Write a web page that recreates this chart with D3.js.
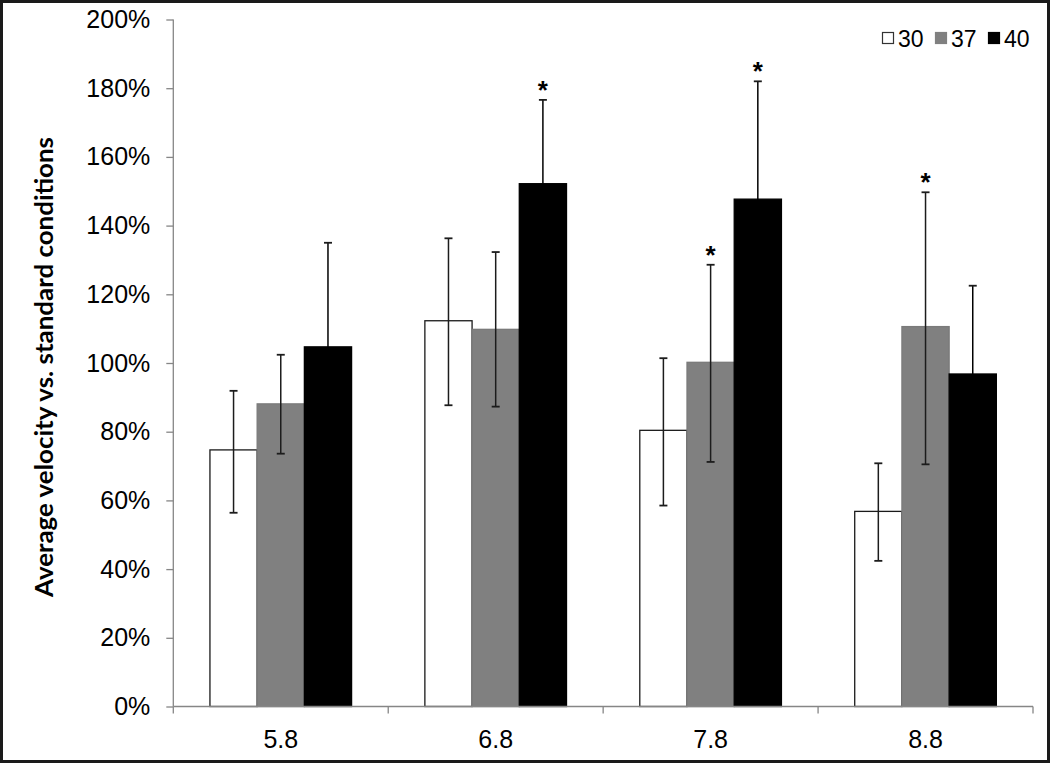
<!DOCTYPE html>
<html>
<head>
<meta charset="utf-8">
<script src="https://cdn.jsdelivr.net/npm/d3@7"></script>
<style>
  html, body { margin: 0; padding: 0; background: #fff; }
  svg { display: block; }
</style>
</head>
<body>
<svg id="chart" width="1050" height="763"></svg>
<script>
// ---- Data ----
const categories = ["5.8", "6.8", "7.8", "8.8"];
const seriesNames = ["30", "37", "40"];
const values30 = [74.7, 112.3, 80.4, 56.8];
const values37 = [88.1, 109.8, 100.2, 110.6];
const values40 = [104.7, 152.2, 147.7, 96.8];
const errHigh30 = [91.9, 136.3, 101.4, 70.8];
const errLow30  = [56.4, 87.7, 58.5, 42.4];
const errHigh37 = [102.4, 132.3, 128.6, 149.7];
const errLow37  = [73.6, 87.3, 71.2, 70.5];
const errHigh40 = [135.0, 176.6, 182.0, 122.5];
const errLow40  = [74.4, 127.8, 113.4, 71.1];
const significant = [["6.8", "40"], ["7.8", "37"], ["7.8", "40"], ["8.8", "37"]];
const yTicks = [0, 20, 40, 60, 80, 100, 120, 140, 160, 180, 200];
const yTitle = "Average velocity vs. standard conditions";

(function () {
const seriesValues = { "30": values30, "37": values37, "40": values40 };
const seriesHigh = { "30": errHigh30, "37": errHigh37, "40": errHigh40 };
const seriesLow = { "30": errLow30, "37": errLow37, "40": errLow40 };
const fills = { "30": "#ffffff", "37": "#808080", "40": "#000000" };
const strokes = { "30": "#1a1a1a", "37": "#7a7a7a", "40": "#000000" };

// ---- Layout ----
const svg = d3.select("#chart");
const W = 1050, H = 763;
const pLeft = 173.3, pRight = 1033, pTop = 19.5, pBottom = 706.5;

const x0 = d3.scaleBand().domain(categories).range([pLeft, pRight]).paddingInner(0).paddingOuter(0);
const bw = x0.bandwidth();
const x1 = d3.scaleBand().domain(seriesNames).range([bw * 0.1705, bw * 0.8295]).paddingInner(0);
const y = d3.scaleLinear().domain([0, 200]).range([pBottom, pTop]);

// outer border
svg.append("rect").attr("x", 1.5).attr("y", 1.5).attr("width", W - 3).attr("height", H - 3)
  .attr("fill", "#fff").attr("stroke", "#1a1a1a").attr("stroke-width", 3);

const axisColor = "#868686";
const tickFont = "'Liberation Sans', Arial, sans-serif";

// Y axis
const yAxis = svg.append("g").attr("transform", `translate(${pLeft},0)`)
  .call(d3.axisLeft(y).tickValues(yTicks).tickSize(7).tickPadding(16).tickFormat(d => d + "%"));
yAxis.select(".domain").attr("stroke", axisColor).attr("stroke-width", 1.3).attr("d", `M0,${pTop}V${pBottom}`);
yAxis.selectAll(".tick line").attr("stroke", axisColor).attr("stroke-width", 1.3);
yAxis.selectAll(".tick text").attr("fill", "#000").style("font-family", tickFont).style("font-size", "25px");

// Bars
const groups = svg.append("g").selectAll("g").data(categories).join("g")
  .attr("transform", d => `translate(${x0(d)},0)`);

groups.selectAll("rect").data((c, i) => seriesNames.map(s => ({ s, v: seriesValues[s][i] })))
  .join("rect")
  .attr("x", d => x1(d.s))
  .attr("y", d => y(d.v))
  .attr("width", x1.bandwidth())
  .attr("height", d => y(0) - y(d.v))
  .attr("fill", d => fills[d.s])
  .attr("stroke", d => strokes[d.s])
  .attr("stroke-width", 1.3);

// X axis (drawn over bar bottoms)
const xAxis = svg.append("g").attr("transform", `translate(0,${pBottom})`)
  .call(d3.axisBottom(x0).tickSize(0).tickPadding(24));
xAxis.select(".domain").attr("stroke", axisColor).attr("stroke-width", 1.3).attr("d", `M${pLeft},0H${pRight}`);
xAxis.selectAll(".tick text").attr("fill", "#000").style("font-family", tickFont).style("font-size", "25px");
// boundary ticks
const bounds = categories.map(c => x0(c)).concat([pRight]);
xAxis.selectAll(".bound").data(bounds).join("line").attr("class", "bound")
  .attr("x1", d => d).attr("x2", d => d).attr("y1", 0).attr("y2", 7)
  .attr("stroke", axisColor).attr("stroke-width", 1.3);

// Error bars
const errData = [];
categories.forEach((c, i) => {
  seriesNames.forEach(s => {
    errData.push({ c, s, hi: seriesHigh[s][i], lo: seriesLow[s][i],
      sig: significant.some(p => p[0] === c && p[1] === s) });
  });
});
const errColor = "#1c1c1c";
const eb = svg.append("g").selectAll("g").data(errData).join("g")
  .attr("transform", d => `translate(${x0(d.c) + x1(d.s) + x1.bandwidth() / 2},0)`);
eb.append("line").attr("x1", 0).attr("x2", 0).attr("y1", d => y(d.hi)).attr("y2", d => y(d.lo))
  .attr("stroke", d => d.s === "40" ? "#000" : errColor).attr("stroke-width", 1.5);
eb.append("line").attr("x1", -4).attr("x2", 4).attr("y1", d => y(d.hi)).attr("y2", d => y(d.hi))
  .attr("stroke", errColor).attr("stroke-width", 1.8);
eb.append("line").attr("x1", -4).attr("x2", 4).attr("y1", d => y(d.lo)).attr("y2", d => y(d.lo))
  .attr("stroke", d => d.s === "40" ? "#000" : errColor).attr("stroke-width", 1.8);
eb.filter(d => d.sig).append("text")
  .attr("x", 0).attr("y", d => y(d.hi) - 1)
  .attr("text-anchor", "middle")
  .style("font-family", "'Liberation Sans', Arial, sans-serif")
  .style("font-weight", "bold").style("font-size", "26px")
  .text("*");

// Y axis title
svg.append("text")
  .attr("transform", `translate(53,367) rotate(-90)`)
  .attr("text-anchor", "middle")
  .attr("textLength", 460)
  .attr("lengthAdjust", "spacingAndGlyphs")
  .style("font-family", "Lato, 'Open Sans', sans-serif")
  .style("font-weight", "bold").style("font-size", "25px")
  .text(yTitle);

// Legend
const legendX = [882, 935, 988];
const lg = svg.append("g").selectAll("g").data(seriesNames).join("g")
  .attr("transform", (d, i) => `translate(${legendX[i]},32)`);
lg.append("rect").attr("x", 0.5).attr("y", 0.5).attr("width", 11).attr("height", 11)
  .attr("fill", d => fills[d]).attr("stroke", d => d === "30" ? "#333" : fills[d]).attr("stroke-width", 1.2);
lg.append("text").attr("x", 16).attr("y", 14.5)
  .style("font-family", tickFont).style("font-size", "23px")
  .text(d => d);
})();
</script>
</body>
</html>
